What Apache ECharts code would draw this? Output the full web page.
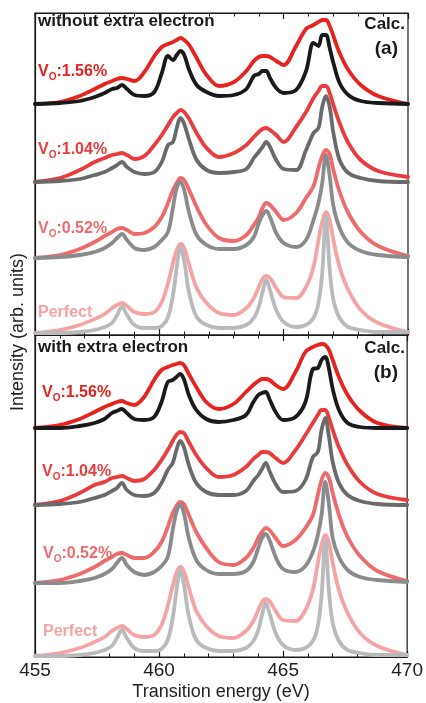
<!DOCTYPE html>
<html>
<head>
<meta charset="utf-8">
<script src="https://cdn.jsdelivr.net/npm/echarts@6/dist/echarts.min.js"></script>
<style>
  html, body { margin: 0; padding: 0; background: #fff; }
  #main { width: 426px; height: 703px; }
</style>
</head>
<body>
<div id="main"></div>
<script>
// energy grid (eV) shared by all curves
var xs = [455, 456, 456.8, 457.4, 457.8, 458.1, 458.3, 458.5, 458.7, 459.0,
  459.4, 459.8, 460.1, 460.35, 460.55, 460.7, 460.85, 461.0, 461.2, 461.5,
  461.9, 462.4, 463.0, 463.5, 463.8, 464.0, 464.15, 464.3, 464.45, 464.7,
  465.0, 465.5, 465.9, 466.2, 466.4, 466.55, 466.7, 466.85, 467.0, 467.25,
  467.6, 468.1, 468.8, 470];

var xTicks = [455, 460, 465, 470];

// vertical offsets of the stacked pairs (bottom to top)
var offsetsA = [2, 77, 153, 231];
var offsetsB = [1, 74, 152, 229];

// (a) without extra electron
var redA156 = [0,2,8,15,20,23,25,26,25,23, 32,48,57,60,62,64,66,64,59,46, 29,18,22,33,43,47,48,48,47,43, 39,58,75,79,82,84,84,78,68,51, 34,19,8,0];
var blackA156 = [0,1,3,7,11,15,16,19,15,9, 8,12,31,48,44,49,53,49,34,19, 12,8,9,15,28,30,33,33,26,16, 11,14,33,61,58,69,69,56,41,21, 9,3,1,0];
var redA104 = [0,4,12,20,24,27,28,29,27,23, 26,37,47,57,65,69,72,70,63,49, 34,25,29,37,45,50,53,54,52,47, 40,55,70,84,91,96,96,89,77,59, 39,22,11,5];
var grayA104 = [0,1,3,7,10,14,17,20,15,10, 8,10,20,37,40,54,64,58,42,22, 12,9,10,13,24,30,35,40,35,22, 13,12,32,49,54,75,86,75,49,22, 9,4,1,0];
var redA052 = [0,3,9,16,22,26,29,30,28,24, 25,31,41,55,68,75,80,78,68,51, 33,20,17,23,33,41,50,55,53,46, 38,45,60,72,90,102,108,104,88,66, 45,26,12,2];
var grayA052 = [0,1,3,6,10,15,20,24,18,10, 8,11,18,26,51,70,76,68,45,23, 13,9,9,13,21,35,43,47,41,25, 15,11,18,38,55,75,103,82,52,30, 15,7,3,1];

// perfect crystal (same in both panels)
var pinkPerfect = [0,3,8,14,19,25,28,30,27,21, 19,21,31,50,70,83,89,85,68,45, 30,20,18,25,35,46,54,57,55,45, 36,35,46,66,93,111,121,113,93,66, 43,23,10,1];
var grayPerfect = [0,0,1,3,6,10,18,26,18,8, 5,5,7,16,38,65,86,72,40,16, 8,5,5,8,15,26,41,53,43,23, 11,6,8,15,30,60,116,64,33,15, 6,3,1,1];

// (b) with extra electron
var redB156 = [0,3,9,16,21,24,26,27,25,23, 31,48,58,61,63,64,65,63,54,41, 26,19,24,36,43,47,49,49,48,43, 39,56,76,81,83,84,83,78,68,51, 33,17,5,0];
var blackB156 = [0,0,2,5,9,15,17,19,15,9, 8,11,26,46,48,51,54,49,33,18, 9,6,8,13,26,33,35,36,29,16, 8,11,26,59,60,68,71,59,39,18, 5,1,0,0];
var redB104 = [0,4,12,20,23,27,28,29,27,24, 26,35,45,55,64,70,73,72,63,50, 37,28,30,38,46,50,53,53,52,47, 42,55,70,82,90,95,95,87,75,58, 40,23,11,5];
var grayB104 = [0,1,3,7,10,14,17,22,15,10, 9,12,22,35,42,55,64,58,40,22, 13,10,10,14,24,30,36,42,34,21, 13,14,25,48,53,75,87,68,43,22, 10,4,1,0];
var redB052 = [0,3,9,16,22,26,29,30,28,25, 25,31,41,56,70,77,81,79,68,51, 35,21,18,25,35,45,51,55,53,45, 37,43,55,68,88,103,110,105,90,68, 46,27,12,2];
var grayB052 = [0,0,2,5,9,14,20,25,18,11, 8,11,17,26,53,71,78,70,45,23, 13,9,9,12,21,35,45,49,43,26, 14,11,17,31,48,68,101,78,45,26, 13,6,3,1];

var FONT = '"Liberation Sans", Arial, sans-serif';
var AX = '#1a1a1a';

function pts(vals, off) {
  return xs.map(function (x, i) { return [x, vals[i] + off]; });
}

function line(grid, vals, off, color, z) {
  return {
    type: 'line',
    xAxisIndex: grid * 2,
    yAxisIndex: grid,
    data: pts(vals, off),
    showSymbol: false,
    smooth: 0.35,
    silent: true,
    z: z,
    lineStyle: { color: color, width: 3.8, cap: 'round', join: 'round' }
  };
}

function xAxis(grid, pos, labels) {
  return {
    type: 'value', gridIndex: grid, position: pos,
    min: 455, max: 470, interval: 5,
    axisLine: { show: true, onZero: false, lineStyle: { color: AX, width: 1.2 } },
    axisTick: { show: true, inside: true, length: 6, lineStyle: { color: AX, width: 1.2 } },
    minorTick: { show: true, splitNumber: 5, length: 3.5, lineStyle: { color: AX, width: 1 } },
    splitLine: { show: false },
    axisLabel: {
      show: labels, fontSize: 19, color: '#222', fontFamily: FONT, margin: 4,
      showMinLabel: true, showMaxLabel: true,
      formatter: function (v) { return xTicks.indexOf(v) >= 0 ? String(v) : ''; }
    },
    name: labels ? 'Transition energy (eV)' : '',
    nameLocation: 'middle',
    nameGap: 26,
    nameTextStyle: { fontSize: 18, color: '#222', fontFamily: FONT }
  };
}

function yAxis(grid) {
  return {
    type: 'value', gridIndex: grid, min: 0, max: 322,
    axisLine: { show: true, lineStyle: { color: AX, width: 1.2 } },
    axisTick: { show: false }, axisLabel: { show: false }, splitLine: { show: false }
  };
}

function vLabel(x, y, num, color) {
  return {
    type: 'text', x: x, y: y, silent: true,
    style: {
      text: '{v|V}{s|O}{v|:' + num + '}',
      textVerticalAlign: 'middle',
      rich: {
        v: { fontSize: 16, fontWeight: 'bold', fontFamily: FONT, fill: color, color: color, lineHeight: 20 },
        s: { fontSize: 10, fontWeight: 'bold', fontFamily: FONT, fill: color, color: color, lineHeight: 10, verticalAlign: 'bottom' }
      }
    }
  };
}

function txt(x, y, text, size, align, bold, color, rot) {
  return {
    type: 'text', x: x, y: y, rotation: rot || 0, silent: true,
    style: {
      text: text, fill: color || '#1a1a1a',
      font: (bold ? 'bold ' : '') + size + 'px ' + FONT,
      textAlign: align, textVerticalAlign: 'middle'
    }
  };
}

var cRed156 = '#e6231f', cBlack = '#1a1a1a';
var cRed104 = '#ea3c3c', cGray104 = '#6a6a6a';
var cRed052 = '#ee6a6b', cGray052 = '#8a8b8d';
var cPink = '#f5a4a5', cGrayP = '#b9babc';

var chart = echarts.init(document.getElementById('main'), null, { renderer: 'canvas' });

var option = {
  animation: false,
  backgroundColor: '#fff',
  grid: [
    { left: 35, right: 18, top: 13, height: 322, show: true, borderColor: AX, borderWidth: 1.2 },
    { left: 35, right: 18, top: 335, height: 322, show: true, borderColor: AX, borderWidth: 1.2 }
  ],
  xAxis: [xAxis(0, 'bottom', false), xAxis(0, 'top', false), xAxis(1, 'bottom', true), xAxis(1, 'top', false)],
  yAxis: [yAxis(0), yAxis(1)],
  series: [
    line(0, redA156, offsetsA[3], cRed156, 2), line(0, blackA156, offsetsA[3], cBlack, 3),
    line(0, redA104, offsetsA[2], cRed104, 4), line(0, grayA104, offsetsA[2], cGray104, 5),
    line(0, redA052, offsetsA[1], cRed052, 6), line(0, grayA052, offsetsA[1], cGray052, 7),
    line(0, pinkPerfect, offsetsA[0], cPink, 8), line(0, grayPerfect, offsetsA[0], cGrayP, 9),
    line(1, redB156, offsetsB[3], cRed156, 2), line(1, blackB156, offsetsB[3], cBlack, 3),
    line(1, redB104, offsetsB[2], cRed104, 4), line(1, grayB104, offsetsB[2], cGray104, 5),
    line(1, redB052, offsetsB[1], cRed052, 6), line(1, grayB052, offsetsB[1], cGray052, 7),
    line(1, pinkPerfect, offsetsB[0], cPink, 8), line(1, grayPerfect, offsetsB[0], cGrayP, 9)
  ],
  graphic: [
    txt(38, 21, 'without extra electron', 17, 'left', true),
    txt(405, 24, 'Calc.', 17, 'right', true),
    txt(398, 49, '(a)', 19, 'right', true),
    txt(38, 347, 'with extra electron', 17, 'left', true),
    txt(405, 348, 'Calc.', 17, 'right', true),
    txt(398, 373, '(b)', 19, 'right', true),
    vLabel(38, 72, '1.56%', cRed156),
    vLabel(38, 150, '1.04%', cRed104),
    vLabel(38, 229, '0.52%', cRed052),
    txt(38, 313, 'Perfect', 16, 'left', true, cPink),
    vLabel(42, 393, '1.56%', cRed156),
    vLabel(42, 472, '1.04%', cRed104),
    vLabel(43, 554, '0.52%', cRed052),
    txt(43, 632, 'Perfect', 16, 'left', true, cPink),
    txt(18, 332, 'Intensity (arb. units)', 18, 'center', false, '#222', Math.PI / 2)
  ]
};

chart.setOption(option);
</script>
</body>
</html>
